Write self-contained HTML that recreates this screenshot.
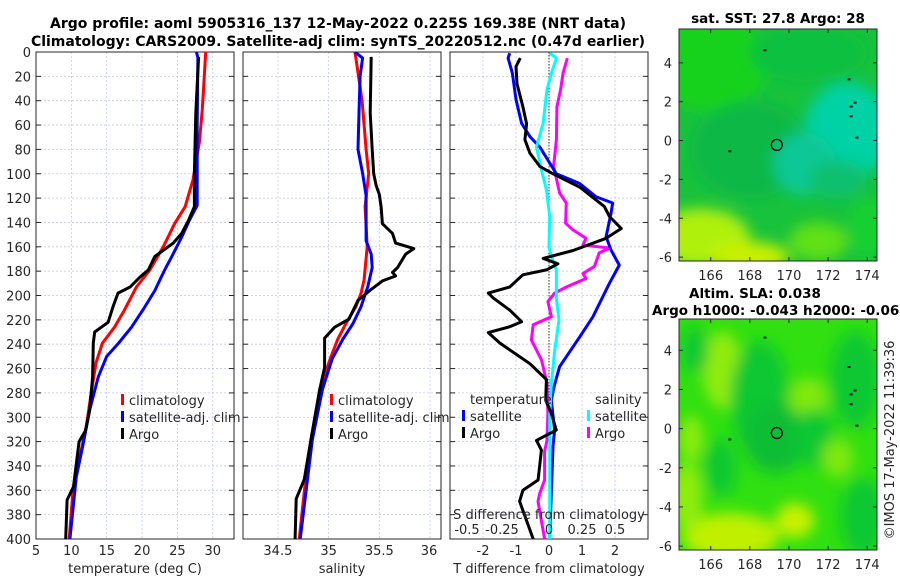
<!DOCTYPE html>
<html><head><meta charset="utf-8">
<style>
html,body{margin:0;padding:0;background:#fff;}
svg{display:block;font-family:"DejaVu Sans","Liberation Sans",sans-serif;}
</style></head>
<body>
<svg id="fig" width="900" height="580" viewBox="0 0 900 580" xmlns="http://www.w3.org/2000/svg">
<defs>
<filter id="blr" x="-20%" y="-20%" width="140%" height="140%"><feGaussianBlur stdDeviation="7"/></filter>
<clipPath id="clipMap1"><rect x="679" y="29" width="198" height="232"/></clipPath>
<clipPath id="clipMap2"><rect x="679" y="319" width="198" height="231"/></clipPath>
<clipPath id="clipP1"><rect x="36" y="52" width="198" height="487"/></clipPath>
<clipPath id="clipP2"><rect x="243" y="52" width="198" height="487"/></clipPath>
<clipPath id="clipP3"><rect x="450" y="52" width="198" height="487"/></clipPath>
</defs>
<g font-weight="bold" font-size="14" fill="#000" text-anchor="middle">
<text x="338" y="28">Argo profile: aoml 5905316_137 12-May-2022 0.225S 169.38E (NRT data)</text>
<text x="338" y="46">Climatology: CARS2009. Satellite-adj clim: synTS_20220512.nc (0.47d earlier)</text>
</g>
<g id="panels"></g>
<g id="maps"></g>
</svg>
<script>
// ---------- Temperature panel data (depth m, value deg C) ----------
const tClimDepth = [0,30,48,74,105,127,141,160,179,193,212,226,239,255,280,308,335,362,400];
const tClimVal   = [29.0,28.7,28.5,28.1,27.2,26.1,24.6,23.0,21.1,19.2,17.5,16.1,14.4,13.5,12.8,12.1,11.1,10.2,9.7];
const tSatDepth  = [0,5,60,126,138,152,168,179,196,212,226,239,250,267,294,321,349,400];
const tSatVal    = [27.7,27.9,27.8,27.8,26.7,25.6,24.2,23.2,21.8,20.1,18.5,16.7,15.0,13.8,12.6,11.7,10.7,9.8];
const tArgoDepth = [4,50,100,127,138,149,157,168,179,185,193,198,209,222,230,239,267,294,311,320,357,368,400];
const tArgoVal   = [28.0,27.6,27.4,27.4,26.6,25.6,24.4,21.8,20.9,19.7,18.3,16.6,15.9,15.2,13.3,13.1,13.0,12.6,12.0,11.1,10.3,9.4,9.2];
// ---------- Salinity panel data ----------
const sClimDepth = [0,40,80,100,127,160,187,198,209,223,236,250,263,291,318,346,400];
const sClimVal   = [35.26,35.33,35.37,35.395,35.36,35.38,35.35,35.32,35.27,35.17,35.09,35.025,34.97,34.90,34.84,34.78,34.71];
const sSatDepth  = [0,5,20,50,80,100,118,155,166,177,193,209,223,236,252,277,318,400];
const sSatVal    = [35.26,35.335,35.31,35.30,35.29,35.336,35.37,35.37,35.42,35.43,35.385,35.32,35.24,35.14,35.035,34.94,34.84,34.72];
const sArgoDepth = [4,50,80,100,110,117,127,141,149,157,161.5,166,177,181,184,188,195,204,219.5,226,235,259,278,316,351,367,400];
const sArgoVal   = [35.42,35.41,35.43,35.445,35.47,35.50,35.517,35.53,35.63,35.66,35.84,35.76,35.68,35.63,35.66,35.53,35.42,35.29,35.20,35.06,34.96,34.96,34.91,34.83,34.76,34.68,34.67];
// ---------- Difference panel data ----------
const dTArgoDepth = [5,12,26,45,59,72,83,94,100,111,127,135,145,153,163,169.5,174,179,183,193,198,202,212,221.5,225.6,230.5,239,256,269,286,297,310.5,319,327,351.5,360,369,400];
const dTArgoVal   = [-0.87,-1.0,-0.97,-0.79,-0.68,-0.73,-0.58,-0.28,0.12,0.93,1.68,1.83,2.19,1.73,0.73,-0.18,0.27,-0.08,-0.79,-1.19,-1.84,-1.69,-1.19,-0.83,-1.19,-1.84,-1.49,-0.58,-0.08,-0.10,0.07,0.22,-0.38,-0.23,-0.33,-0.79,-0.89,-0.48];
const dTSatDepth  = [1,5,17.5,39,58.6,69.5,78,95.5,100,108,119,124,132.5,151.7,162.6,175,190,217.5,234,258.5,275,286,310.5,324,400];
const dTSatVal    = [-1.19,-1.24,-1.11,-1.0,-0.83,-0.58,-0.28,0.12,0.22,0.93,1.43,1.93,1.88,1.73,1.88,2.13,1.83,1.33,0.93,0.32,0.15,0.07,0.17,0.12,0.02];
const dSSatDepth  = [1,5,17.5,31,58.6,78,97,113,135,160,168,179,203,220,245,272,300,400];
const dSSatVal    = [0.005,0.056,0.018,-0.015,-0.045,-0.095,-0.057,-0.02,0.005,0,0.018,0.056,0.056,0.076,0.043,0.018,0.005,0.005];
const dSArgoDepth = [5,17.5,31,45,72,94,116,124,140.6,146,153,158.6,161,165,176,182,186,193,198,205,217.5,224,236.6,253,272,297,319,328,351.5,362.5,369,400];
const dSArgoVal   = [0.139,0.106,0.088,0.06,0.056,0.035,0.081,0.131,0.126,0.18,0.28,0.257,0.46,0.38,0.345,0.257,0.28,0.131,0.043,-0.008,0.018,-0.12,-0.133,-0.057,-0.015,-0.008,-0.015,-0.033,-0.033,-0.07,-0.083,-0.033];
// ---------- Axis tick labels ----------
const depthTicks = [0,20,40,60,80,100,120,140,160,180,200,220,240,260,280,300,320,340,360,380,400];
const tTicks = [5,10,15,20,25,30];
const sTicks = [34.5,35,35.5,36];
const dTTicks = [-2,-1,0,1,2];
const dSTicks = [-0.5,-0.25,0,0.25,0.5];
const lonTicks = [166,168,170,172,174];
const latTicks = [4,2,0,-2,-4,-6];
const argoLon = 169.38, argoLat = -0.225;

const NS = 'http://www.w3.org/2000/svg';
function mk(tag, attrs, parent){ const e=document.createElementNS(NS,tag); for(const k in attrs) e.setAttribute(k,attrs[k]); if(parent) parent.appendChild(e); return e; }
const panelsG = document.getElementById('panels');
const TOP=52, BOT=539;
function yDepth(d){ return TOP + (d/400)*(BOT-TOP); }
function linScale(d0,d1,r0,r1){ return v => r0 + (v-d0)/(d1-d0)*(r1-r0); }
const xT = linScale(5,33,36,234);
const xS = linScale(34.156,36.108,243,441);
const xD = linScale(-3,3,450,648);
const xDS = linScale(-0.75,0.75,450,648);

function drawPanel(name, x0, xScale, ticks, labelsY){
  const g = mk('g',{},panelsG);
  
  
  const grid = mk('g',{stroke:'#c4c8e6','stroke-width':'0.8','stroke-dasharray':'2,2'},g);
  
  
  depthTicks.forEach(d=>{ if(d>0&&d<400) mk('line',{x1:x0,x2:x0+198,y1:yDepth(d),y2:yDepth(d)},grid); });
  ticks.forEach(t=>{ const x=xScale(t); if(x>x0+1&&x<x0+197) mk('line',{x1:x,x2:x,y1:TOP,y2:BOT},grid); });
  const ax = mk('g',{stroke:'#262626','stroke-width':'1'},g);
  depthTicks.forEach(d=>{ const y=yDepth(d); mk('line',{x1:x0,x2:x0+5,y1:y,y2:y},ax); mk('line',{x1:x0+198-5,x2:x0+198,y1:y,y2:y},ax); });
  mk('rect',{x:x0,y:TOP,width:198,height:BOT-TOP,fill:'none',stroke:'#262626','stroke-width':'1'},g);
  if(labelsY){
    depthTicks.forEach(d=>{ const t=mk('text',{x:x0-5,y:yDepth(d)+5,'text-anchor':'end','font-size':'13',fill:'#262626'},g); t.textContent=d;
        });
  }
  return g;
}
function drawLine(g, depths, vals, xScale, color, name, clip){
  const pts = depths.map((d,i)=> xScale(vals[i]).toFixed(1)+','+yDepth(d).toFixed(1)).join(' ');
  const p = mk('polyline',{points:pts,fill:'none',stroke:color,'stroke-width':'3','stroke-linejoin':'round','clip-path':'url(#'+clip+')'},g);
  
  
}
function xLabels(g, ticks, xScale, y){
  ticks.forEach(t=>{ const e=mk('text',{x:xScale(t),y:y,'text-anchor':'middle','font-size':'13',fill:'#262626'},g); e.textContent=t;
      });
}
function txt(g,x,y,s,opts,name){ const e=mk('text',Object.assign({x:x,y:y,'font-size':'13',fill:'#262626'},opts||{}),g); e.textContent=s;
    return e; }
function legendEntry(g,x,y,color,label){
  const r=mk('rect',{x:x,y:y-11,width:3,height:11,fill:color},g);
   
  txt(g,x+8,y,label,{fill:'#262626'},'legend-entry');
}

// Panel 1: temperature
const p1 = drawPanel('temperature-panel',36,xT,tTicks,true);
xLabels(p1,tTicks,xT,555);
txt(p1,135,573,'temperature (deg C)',{'text-anchor':'middle'},'x-axis-title');
drawLine(p1,tClimDepth,tClimVal,xT,'#ff0000','climatology-line','clipP1');
drawLine(p1,tSatDepth,tSatVal,xT,'#0000ff','satellite-line','clipP1');
drawLine(p1,tArgoDepth,tArgoVal,xT,'#000000','argo-line','clipP1');
legendEntry(p1,121,405,'#ff0000','climatology');
legendEntry(p1,121,422,'#0000ff','satellite-adj. clim');
legendEntry(p1,121,439,'#000000','Argo');

// Panel 2: salinity
const p2 = drawPanel('salinity-panel',243,xS,sTicks,false);
xLabels(p2,[34.5,35,35.5],xS,555);
txt(p2,429,555,'36',{'text-anchor':'middle'},'x-tick-label');
txt(p2,342,573,'salinity',{'text-anchor':'middle'},'x-axis-title');
drawLine(p2,sClimDepth,sClimVal,xS,'#ff0000','climatology-line','clipP2');
drawLine(p2,sSatDepth,sSatVal,xS,'#0000ff','satellite-line','clipP2');
drawLine(p2,sArgoDepth,sArgoVal,xS,'#000000','argo-line','clipP2');
legendEntry(p2,330,405,'#ff0000','climatology');
legendEntry(p2,330,422,'#0000ff','satellite-adj. clim');
legendEntry(p2,330,439,'#000000','Argo');

// Panel 3: differences
const p3 = drawPanel('difference-panel',450,xD,dTTicks,false);
const zl = mk('line',{x1:xD(0),x2:xD(0),y1:TOP,y2:BOT,stroke:'#333','stroke-width':'1','stroke-dasharray':'1.5,1.5'},p3);
 
xLabels(p3,dTTicks,xD,555);
txt(p3,549,573,'T difference from climatology',{'text-anchor':'middle'},'x-axis-title');
drawLine(p3,dSArgoDepth,dSArgoVal,xDS,'#ff00ff','salinity-argo-diff-line','clipP3');
drawLine(p3,dTSatDepth,dTSatVal,xD,'#0000ff','temperature-satellite-diff-line','clipP3');
drawLine(p3,dSSatDepth,dSSatVal,xDS,'#00ffff','salinity-satellite-diff-line','clipP3');
drawLine(p3,dTArgoDepth,dTArgoVal,xD,'#000000','temperature-argo-diff-line','clipP3');
txt(p3,470,404,'temperature',{},'legend-title');
txt(p3,595,404,'salinity',{},'legend-title');
legendEntry(p3,462,421,'#0000ff','satellite');
legendEntry(p3,462,438,'#000000','Argo');
legendEntry(p3,587,421,'#00ffff','satellite');
legendEntry(p3,587,438,'#ff00ff','Argo');
txt(p3,549,519,'S difference from climatology',{'text-anchor':'middle'},'s-axis-title');
const sLab = ['-0.5','-0.25','0','0.25','0.5'];
dSTicks.forEach((t,i)=>{ let x=xDS(t); if(i===0) x-=16; if(i===1) x-=14; txt(p3,x,534,sLab[i],{'text-anchor':'middle'},'s-tick-label'); });

// ---------- Maps ----------
const mapsG = document.getElementById('maps');
function drawMap(name, top, bottom, latTop, latBot, clip, blobs, base){
  const g = mk('g',{},mapsG);
  
  
  const xL = linScale(164.38,174.5,679,877);
  const yL = linScale(latTop,latBot,top,bottom);
  const cg = mk('g',{'clip-path':'url(#'+clip+')'},g);
  mk('rect',{x:679,y:top,width:198,height:bottom-top,fill:base},cg);
  const bg = mk('g',{filter:'url(#blr)'},cg);
  blobs.forEach(b=>{ mk('ellipse',{cx:xL(b[0]),cy:yL(b[1]),rx:b[2]*19.5,ry:b[3]*19.4,fill:b[4]},bg); });
  [[173,3.2],[173.1,1.8],[173.1,1.3],[173.4,0.2],[174.5,-0.6],[168.7,4.7],[166.9,-0.5],[173.3,2.0]].forEach(p=>{
    const m=mk('rect',{x:xL(p[0]),y:yL(p[1]),width:3,height:2,fill:'#111'},cg);
     
  });
  const c = mk('circle',{cx:xL(argoLon),cy:yL(argoLat),r:5.5,fill:'none',stroke:'#000','stroke-width':'1.3'},g);
   
  mk('rect',{x:679,y:top,width:198,height:bottom-top,fill:'none',stroke:'#262626','stroke-width':'1'},g);
  lonTicks.forEach(t=>{ const x=xL(t); mk('line',{x1:x,x2:x,y1:bottom,y2:bottom-4,stroke:'#262626'},g); mk('line',{x1:x,x2:x,y1:top,y2:top+4,stroke:'#262626'},g);
    txt(g,x,bottom+19,String(t),{'text-anchor':'middle'},'lon-tick-label'); });
  latTicks.forEach(t=>{ const y=yL(t); mk('line',{x1:679,x2:683,y1:y,y2:y,stroke:'#262626'},g); mk('line',{x1:873,x2:877,y1:y,y2:y,stroke:'#262626'},g);
    txt(g,672,y+5,String(t),{'text-anchor':'end'},'lat-tick-label'); });
  return g;
}
const m1 = drawMap('sst-map',29,261,5.74,-6.2,'clipMap1',[
  [166,4,3,2.5,'#14d21e'],[171,4.5,3,1.5,'#10c040'],[168,-0.5,3,2.5,'#10b846'],
  [173,0.5,2.2,2.5,'#00d2a6'],[170.8,-1.2,1.6,1.6,'#08c896'],[172.5,-2,1.5,1,'#10c070'],
  [165.5,-5,2.5,1.5,'#b0f010'],[168,-6,2,0.8,'#c8f000'],[171.5,-5.2,1.5,1,'#60e018'],[174,-4.5,1,1.5,'#18d030']
],'#18c23c');
txt(m1,778,23,'sat. SST: 27.8 Argo: 28',{'text-anchor':'middle','font-weight':'bold',fill:'#000','font-size':'13.5'},'sst-map-title');
const m2 = drawMap('sla-map',319,550,5.6,-6.2,'clipMap2',[
  [166.6,3,1,2,'#90ec10'],[165.2,4,0.7,1.2,'#10c830'],[168.5,1.5,1.5,3,'#10c830'],[169.3,-0.5,1.6,1.8,'#0cbe34'],
  [171,1.6,1,1,'#80e810'],[171.3,-0.5,1,1.5,'#10c830'],[173.4,2.5,1.3,2.5,'#10c830'],[172.5,-1.5,0.8,1,'#80e810'],
  [166.5,-2,0.8,1.5,'#10c830'],[165,-0.5,0.6,1.2,'#90ec10'],[167,-5.5,2.5,1.2,'#c0f000'],[170.3,-4.7,1,0.9,'#c8f000'],
  [173.8,-4.5,1.2,2,'#10c830'],[164.8,-3.5,0.8,1.8,'#90ec10']
],'#30e010');
txt(m2,755,298,'Altim. SLA: 0.038',{'text-anchor':'middle','font-weight':'bold',fill:'#000','font-size':'13.5'},'sla-map-title-1');
txt(m2,652,315,'Argo h1000: -0.043 h2000: -0.065',{'font-weight':'bold',fill:'#000','font-size':'13.5'},'sla-map-title-2');
const stamp = txt(mapsG,894,440,'©IMOS 17-May-2022 11:39:36',{'text-anchor':'middle',transform:'rotate(-90 894 440)'},'timestamp-label');
</script>
</body></html>
